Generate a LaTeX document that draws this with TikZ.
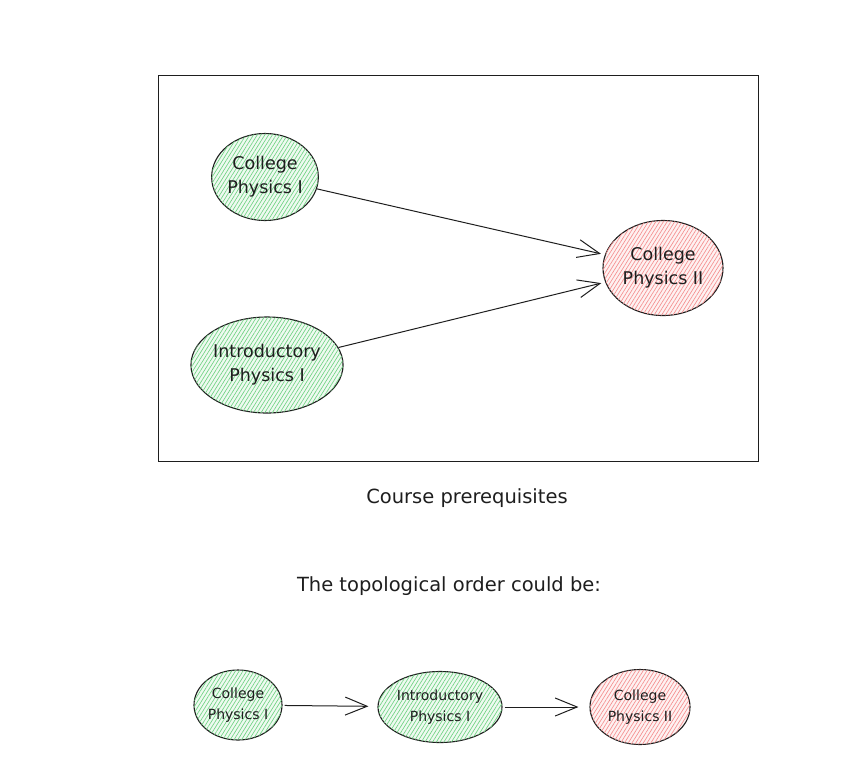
\documentclass[tikz,border=0pt]{standalone}
\usepackage{fontspec}
\setmainfont{DejaVu Sans}
\usetikzlibrary{shapes.geometric,arrows.meta,patterns.meta}
\definecolor{hgreen}{HTML}{6FD282}
\definecolor{hred}{HTML}{F58E8E}
\definecolor{ink}{HTML}{1E1E1E}
\tikzset{
  course/.style={ellipse, draw=ink, line width=1.1pt, inner sep=0pt, align=center, text=ink,
    font=\fontsize{17.5}{24}\selectfont},
  greenc/.style={course, fill=hgreen!12, postaction={pattern={Lines[angle=58,distance=3.2pt,line width=0.65pt]}, pattern color=hgreen}},
  redc/.style={course, fill=hred!12, postaction={pattern={Lines[angle=58,distance=3.2pt,line width=0.65pt]}, pattern color=hred}},
  small/.style={font=\fontsize{14}{21}\selectfont},
  conn/.style={draw=ink, line width=1pt, -{Straight Barb[length=22pt,width=18pt,line width=1pt]}},
  caption/.style={text=ink, font=\fontsize{19.5}{22}\selectfont},
  frame/.style={draw=ink, line width=1pt}
}
\begin{document}
\begin{tikzpicture}[x=1pt,y=-1pt]
\useasboundingbox (0,0) rectangle (845,764);
\node[frame, minimum width=600pt, minimum height=386pt, inner sep=0pt] (box) at (458,268) {};
\node[greenc, minimum width=104pt, minimum height=87pt] (cp1) at (265,177) {College\\Physics I};
\node[greenc, minimum width=142pt, minimum height=96pt] (ip1) at (267,365) {Introductory\\Physics I};
\node[redc, minimum width=120pt, minimum height=95pt] (cp2) at (663,268) {College\\Physics II};
\draw[conn, shorten >=4pt] (cp1) -- (cp2);
\draw[conn, shorten >=4pt] (ip1) -- (cp2);
\node[caption] (cap1) at (467,498) {Course prerequisites};
\node[caption] (cap2) at (449,586) {The topological order could be:};
\node[greenc, small, minimum width=88pt, minimum height=70pt] (d1) at (238,705) {College\\Physics I};
\node[greenc, small, minimum width=124pt, minimum height=71pt] (d2) at (440,707) {Introductory\\Physics I};
\node[redc, small, minimum width=100pt, minimum height=75pt] (d3) at (640,707) {College\\Physics II};
\draw[conn, shorten <=2pt, shorten >=9pt] (d1) -- (d2);
\draw[conn, shorten <=2pt, shorten >=11pt] (d2) -- (d3);
\end{tikzpicture}
\end{document}
